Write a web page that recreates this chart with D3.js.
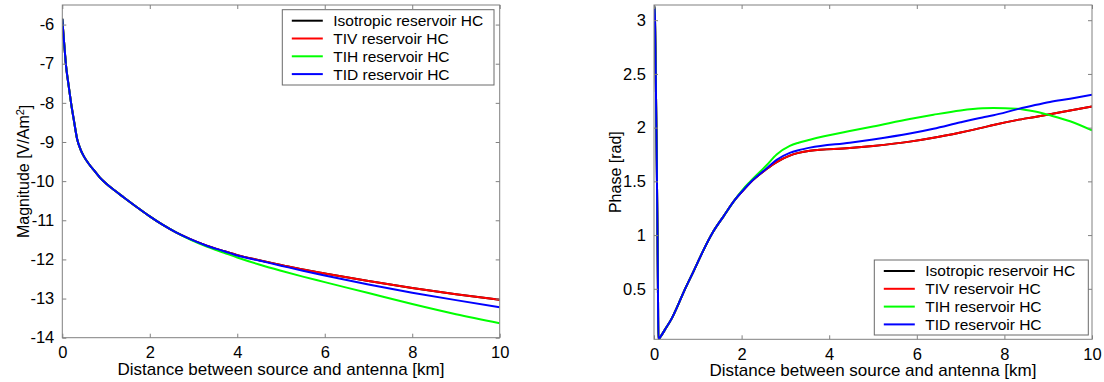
<!DOCTYPE html>
<html>
<head>
<meta charset="utf-8">
<script src="https://cdn.jsdelivr.net/npm/d3@7"></script>
<style>
html,body{margin:0;padding:0;background:#fff;}
svg{display:block;font-family:"Liberation Sans",Arial,sans-serif;}
</style>
</head>
<body>
<svg id="chart" width="1104" height="382"></svg>
<script>
// ---------- DATA ----------
const seriesNames = ["Isotropic reservoir HC", "TIV reservoir HC", "TIH reservoir HC", "TID reservoir HC"];
const seriesColors = ["#000000", "#ff0000", "#00ff00", "#0000ff"];

// Left panel: magnitude (log10) vs distance
const magDistance = [0, 0.03, 0.06, 0.085, 0.12, 0.16, 0.2, 0.27, 0.34, 0.42, 0.5, 0.6, 0.75, 0.86, 1.0, 1.2, 1.4, 1.7, 2.0, 2.3, 2.6, 2.9, 3.3, 3.7, 4.0, 4.5, 5, 5.5, 6, 7, 8, 9, 10];
const magIso = [-5.85, -6.3, -6.72, -7.05, -7.36, -7.68, -8.0, -8.48, -8.93, -9.2, -9.38, -9.55, -9.76, -9.91, -10.06, -10.24, -10.41, -10.66, -10.9, -11.12, -11.31, -11.47, -11.65, -11.79, -11.89, -12.02, -12.14, -12.26, -12.36, -12.55, -12.73, -12.89, -13.03];
const magTIV = [-5.85, -6.3, -6.72, -7.05, -7.36, -7.68, -8.0, -8.48, -8.93, -9.2, -9.38, -9.55, -9.76, -9.91, -10.06, -10.24, -10.41, -10.66, -10.9, -11.12, -11.31, -11.47, -11.65, -11.79, -11.89, -12.02, -12.14, -12.26, -12.36, -12.55, -12.73, -12.89, -13.03];
const magTIH = [-5.85, -6.3, -6.72, -7.05, -7.36, -7.68, -8.0, -8.48, -8.93, -9.2, -9.38, -9.55, -9.76, -9.91, -10.06, -10.24, -10.41, -10.66, -10.9, -11.12, -11.31, -11.48, -11.67, -11.83, -11.95, -12.13, -12.29, -12.44, -12.58, -12.86, -13.14, -13.40, -13.63];
const magTID = [-5.85, -6.3, -6.72, -7.05, -7.36, -7.68, -8.0, -8.48, -8.93, -9.2, -9.38, -9.55, -9.76, -9.91, -10.06, -10.24, -10.41, -10.66, -10.9, -11.12, -11.31, -11.47, -11.65, -11.79, -11.90, -12.03, -12.16, -12.29, -12.41, -12.64, -12.85, -13.04, -13.22];
const magXTicks = [0, 2, 4, 6, 8, 10];
const magYTicks = [-14, -13, -12, -11, -10, -9, -8, -7, -6];

// Right panel: phase vs distance
const phaseDistance = [0, 0.02, 0.04, 0.06, 0.08, 0.09, 0.1, 0.15, 0.25, 0.4, 0.55, 0.7, 0.9, 1.13, 1.35, 1.58, 1.85, 2.04, 2.2, 2.57, 2.8, 3.1, 3.3, 3.56, 4.47, 5, 5.84, 6.38, 7, 7.5, 7.75, 8.28, 8.7, 9.04, 9.5, 10];
const phaseIso = [3.14, 3.05, 2.5, 1.8, 1.0, 0.5, 0.03, 0.055, 0.12, 0.22, 0.35, 0.49, 0.66, 0.86, 1.03, 1.17, 1.33, 1.42, 1.49, 1.615, 1.68, 1.74, 1.765, 1.785, 1.81, 1.83, 1.87, 1.905, 1.955, 2.0, 2.025, 2.07, 2.1, 2.125, 2.16, 2.198];
const phaseTIV = [3.14, 3.05, 2.5, 1.8, 1.0, 0.5, 0.03, 0.055, 0.12, 0.22, 0.35, 0.49, 0.66, 0.86, 1.03, 1.17, 1.33, 1.42, 1.49, 1.615, 1.68, 1.74, 1.765, 1.785, 1.81, 1.83, 1.87, 1.905, 1.955, 2.0, 2.025, 2.07, 2.1, 2.125, 2.16, 2.198];
const phaseTIH = [3.14, 3.05, 2.5, 1.8, 1.0, 0.5, 0.03, 0.055, 0.12, 0.22, 0.35, 0.49, 0.66, 0.86, 1.03, 1.17, 1.33, 1.43, 1.5, 1.65, 1.75, 1.83, 1.86, 1.888, 1.968, 2.01, 2.08, 2.12, 2.16, 2.18, 2.183, 2.177, 2.15, 2.115, 2.06, 1.975];
const phaseTID = [3.14, 3.05, 2.5, 1.8, 1.0, 0.5, 0.03, 0.055, 0.12, 0.22, 0.35, 0.49, 0.66, 0.86, 1.03, 1.17, 1.33, 1.42, 1.49, 1.62, 1.70, 1.765, 1.79, 1.814, 1.86, 1.89, 1.945, 1.99, 2.05, 2.095, 2.115, 2.17, 2.21, 2.239, 2.27, 2.307];
const phaseXTicks = [0, 2, 4, 6, 8, 10];
const phaseYTicks = [0.5, 1, 1.5, 2, 2.5, 3];

// ---------- DRAWING ----------
const svg = d3.select("#chart");
const axisGray = "#808080";

function panel(cfg) {
  const x = d3.scaleLinear().domain(cfg.xDomain).range([cfg.left, cfg.right]);
  const y = d3.scaleLinear().domain(cfg.yDomain).range([cfg.bottom, cfg.top]);
  const g = svg.append("g");
  const clipId = "clip" + cfg.id;
  svg.append("clipPath").attr("id", clipId).append("rect")
    .attr("x", cfg.left).attr("y", cfg.top)
    .attr("width", cfg.right - cfg.left).attr("height", cfg.bottom - cfg.top);

  const line = d3.line().x(d => x(d[0])).y(d => y(d[1])).curve(d3.curveMonotoneX);
  const lg = g.append("g").attr("clip-path", `url(#${clipId})`);
  cfg.series.forEach((s, i) => {
    lg.append("path")
      .datum(cfg.xs.map((v, k) => [v, s[k]]))
      .attr("fill", "none")
      .attr("stroke", seriesColors[i])
      .attr("stroke-width", 2)
      .attr("stroke-linejoin", "round")
      .attr("d", line);
  });

  g.append("rect").attr("x", cfg.left).attr("y", cfg.top)
    .attr("width", cfg.right - cfg.left).attr("height", cfg.bottom - cfg.top)
    .attr("fill", "none").attr("stroke", axisGray).attr("stroke-width", 1);

  const tl = 4;
  function styleAxis(sel, labels) {
    sel.select(".domain").remove();
    sel.selectAll(".tick line").attr("stroke", axisGray);
    sel.selectAll(".tick text").attr("fill", "#000").attr("font-size", labels ? "16.5px" : 0)
      .attr("font-family", '"Liberation Sans",Arial,sans-serif');
  }
  g.append("g").attr("transform", `translate(0,${cfg.bottom})`)
    .call(d3.axisBottom(x).tickValues(cfg.xTicks).tickSize(-tl).tickPadding(9).tickFormat(d3.format("d")))
    .call(s => styleAxis(s, true));
  g.append("g").attr("transform", `translate(0,${cfg.top})`)
    .call(d3.axisTop(x).tickValues(cfg.xTicks).tickSize(-tl).tickFormat(""))
    .call(s => styleAxis(s, false));
  g.append("g").attr("transform", `translate(${cfg.left},0)`)
    .call(d3.axisLeft(y).tickValues(cfg.yTicks).tickSize(-tl).tickPadding(8).tickFormat(d => String(d)))
    .call(s => styleAxis(s, true));
  g.append("g").attr("transform", `translate(${cfg.right},0)`)
    .call(d3.axisRight(y).tickValues(cfg.yTicks).tickSize(-tl).tickFormat(""))
    .call(s => styleAxis(s, false));

  g.append("text").attr("x", (cfg.left + cfg.right) / 2).attr("y", cfg.bottom + 37)
    .attr("text-anchor", "middle").attr("font-size", "17px").attr("fill", "#000")
    .text("Distance between source and antenna [km]");
  const yl = g.append("text")
    .attr("transform", `translate(${cfg.yLabelX},${(cfg.top + cfg.bottom) / 2}) rotate(-90)`)
    .attr("text-anchor", "middle").attr("font-size", "16px").attr("fill", "#000");
  cfg.yLabel(yl);

  const L = cfg.legend;
  const lgd = g.append("g");
  lgd.append("rect").attr("x", L.x).attr("y", L.y).attr("width", L.w).attr("height", L.h)
    .attr("fill", "#fff").attr("stroke", "#6a6a6a").attr("stroke-width", 1);
  seriesNames.forEach((n, i) => {
    const ry = L.y + 11 + i * 17.8;
    lgd.append("line").attr("x1", L.x + 9.5).attr("x2", L.x + 40.5).attr("y1", ry).attr("y2", ry)
      .attr("stroke", seriesColors[i]).attr("stroke-width", 2);
    lgd.append("text").attr("x", L.x + 51).attr("y", ry).attr("dy", "0.35em")
      .attr("font-size", "15.5px").attr("fill", "#000").text(n);
  });
}

panel({
  id: "mag", left: 62.3, right: 499.7, top: 5, bottom: 337.7,
  xDomain: [0, 10], yDomain: [-14, -5.5],
  xs: magDistance, series: [magIso, magTIV, magTIH, magTID],
  xTicks: magXTicks, yTicks: magYTicks,
  yLabelX: 29,
  yLabel: t => { t.append("tspan").text("Magnitude [V/Am");
                 t.append("tspan").attr("dy", "-0.45em").attr("font-size", "11px").text("2");
                 t.append("tspan").attr("dy", "0.45em").text("]"); },
  legend: { x: 282.3, y: 9.7, w: 211.7, h: 75.3 }
});

panel({
  id: "phase", left: 654, right: 1092, top: 5, bottom: 339.3,
  xDomain: [0, 10], yDomain: [0.03, Math.PI],
  xs: phaseDistance, series: [phaseIso, phaseTIV, phaseTIH, phaseTID],
  xTicks: phaseXTicks, yTicks: phaseYTicks,
  yLabelX: 621,
  yLabel: t => t.text("Phase [rad]"),
  legend: { x: 874.3, y: 260, w: 214, h: 75 }
});
</script>
</body>
</html>
